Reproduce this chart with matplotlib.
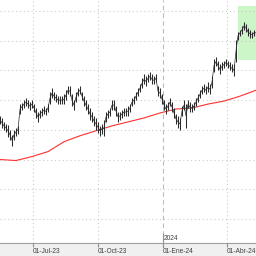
import matplotlib
matplotlib.use("Agg")
import matplotlib.pyplot as plt
from matplotlib.patches import Rectangle
import matplotlib.dates as mdates
import pandas as pd

# Price range per bar (high / low), every ~2 sessions
high = [19.4, 19.2, 18.8, 18.6, 18.5, 18.0, 17.5, 18.0, 18.2, 18.4,
        20.6, 20.7, 21.0, 21.2, 21.0, 20.8, 21.0, 20.6, 20.2, 19.8,
        20.0, 20.2, 20.4, 20.2, 20.6, 21.8, 22.2, 21.8, 21.6, 21.4,
        21.4, 21.4, 21.6, 22.0, 22.4, 22.4, 21.6, 21.0, 21.8, 22.2,
        22.4, 21.8, 21.4, 21.0, 20.6, 20.2, 19.8, 19.4, 19.2, 18.8,
        18.4, 18.6, 19.0, 19.8, 20.0, 20.2, 21.0, 21.0, 20.4, 19.8,
        19.8, 20.0, 20.2, 20.2, 20.4, 20.6, 21.2, 21.4, 21.8, 22.2,
        22.6, 23.2, 23.6, 23.4, 23.6, 23.8, 23.6, 23.4, 23.6, 22.4,
        22.2, 21.6, 21.0, 20.6, 20.8, 21.2, 20.8, 20.2, 19.6, 19.4,
        19.2, 20.4, 21.0, 20.6, 21.0, 20.8, 20.6, 20.8, 21.2, 21.6,
        22.0, 22.4, 22.6, 22.4, 22.8, 22.6, 23.4, 25.2, 25.4, 25.0,
        24.6, 24.8, 25.0, 25.2, 25.0, 24.8, 24.6, 24.6, 27.1, 27.9,
        28.1, 28.5, 28.9, 28.7, 28.3, 28.1, 27.9, 28.1, 28.1]
low = [18.6, 18.2, 18.0, 17.8, 17.3, 17.0, 16.4, 17.0, 17.4, 17.6,
       19.6, 20.0, 20.2, 20.4, 20.2, 20.0, 20.2, 19.8, 19.2, 18.8,
       19.2, 19.4, 19.6, 19.5, 19.8, 20.6, 21.2, 21.0, 20.8, 20.6,
       20.6, 20.6, 20.6, 21.0, 21.6, 21.4, 20.4, 20.0, 20.8, 21.4,
       21.6, 21.0, 20.4, 20.0, 19.6, 19.0, 18.8, 18.4, 18.0, 17.7,
       17.4, 17.6, 17.4, 18.8, 19.2, 19.4, 20.0, 20.0, 19.4, 18.8,
       19.0, 19.2, 19.4, 19.4, 19.4, 19.8, 20.4, 20.6, 21.0, 21.4,
       21.8, 22.2, 22.6, 22.4, 22.8, 23.0, 22.6, 22.6, 22.8, 21.4,
       21.2, 20.6, 20.0, 19.6, 20.0, 20.4, 19.8, 19.2, 18.6, 18.2,
       18.0, 19.4, 20.0, 18.2, 20.2, 19.8, 19.8, 20.0, 20.4, 20.8,
       21.2, 21.6, 21.8, 21.6, 21.8, 21.6, 22.2, 23.8, 24.4, 24.0,
       23.6, 24.0, 24.2, 24.4, 24.2, 24.0, 23.8, 23.4, 24.8, 27.1,
       27.5, 27.7, 28.1, 27.9, 27.5, 27.3, 27.3, 27.5, 27.5]

# moving average, sampled evenly across the visible range
ma = [15.0, 14.9, 15.3, 15.8, 16.8, 17.4, 17.9, 18.4, 18.8,
      19.2, 19.7, 20.1, 20.2, 20.6, 20.9, 21.4, 22.0]

tick_dates = ["2023-04-01", "2023-07-01", "2023-10-01", "2024-01-01", "2024-04-01"]
tick_labels = ["01-Abr-23", "01-Jul-23", "01-Oct-23", "01-Ene-24", "01-Abr-24"]
year_label = "2024"
year_date = "2024-01-01"

zone_start, zone_end = "2024-04-16", "2024-07-01"
zone_low, zone_high = 25.1, 30.5

# visible window (cropped chart)
jul1 = pd.Timestamp("2023-07-01")
apr1 = pd.Timestamp("2024-04-01")
step = (apr1 - jul1) / 194
x_left = jul1 - step * 33
x_right = apr1 + step * 29

dates = pd.date_range(x_left, x_right, periods=len(high))
ma_dates = pd.date_range(x_left, x_right, periods=len(ma))
mid = [(h + l) / 2 for h, l in zip(high, low)]

fig = plt.figure(figsize=(2.56, 2.56), dpi=100, facecolor="#f0f0f0")
ax = fig.add_axes([0, 13 / 256, 1, 243 / 256])
ax.set_facecolor("white")
for side in ["top", "left", "right"]:
    ax.spines[side].set_visible(False)
ax.spines["bottom"].set_color("#a0a0a0")
ax.spines["bottom"].set_linewidth(0.8)

ax.set_xlim(x_left, x_right)
ax.set_ylim(6.57, 31.11)

# grid
ax.set_yticks(range(9, 31, 3))
ax.tick_params(axis="y", left=False, labelleft=False)
ax.grid(axis="y", linestyle=(0, (1, 2.5)), color="#cccccc", linewidth=0.8, zorder=0)
for d in tick_dates[1:]:
    if d == year_date:
        ax.axvline(pd.Timestamp(d), color="#bbbbbb", linestyle=(0, (4, 3)), linewidth=0.8, zorder=0)
    else:
        ax.axvline(pd.Timestamp(d), color="#cccccc", linestyle=(0, (1, 2.5)), linewidth=0.8, zorder=0)

# highlighted zone
x0 = mdates.date2num(pd.Timestamp(zone_start))
x1 = mdates.date2num(pd.Timestamp(zone_end))
ax.add_patch(Rectangle((x0, zone_low), x1 - x0, zone_high - zone_low,
                       facecolor="#ccf5c8", edgecolor="none", zorder=1))

# price bars and moving average
ax.vlines(dates, low, high, color="#2a2a2a", linewidth=0.75, zorder=3)
ax.plot(dates, mid, color="#2a2a2a", linewidth=0.5, zorder=3)
ax.plot(ma_dates, ma, color="#ff3030", linewidth=0.8, zorder=2)

# x ticks
ax.set_xticks([pd.Timestamp(d) for d in tick_dates[1:]])
ax.set_xticklabels(tick_labels[1:])
ax.tick_params(axis="x", direction="out", length=3, width=0.8, color="#909090",
               pad=0.5, labelsize=4.8, labelcolor="#404040")
for lab in ax.get_xticklabels():
    lab.set_horizontalalignment("left")
    lab.set_fontfamily("Liberation Sans")

trans = ax.get_xaxis_transform()
ax.text(pd.Timestamp(tick_dates[0]), -0.018, tick_labels[0], transform=trans,
        ha="left", va="top", fontsize=4.8, color="#404040",
        family="Liberation Sans", clip_on=False)
ax.plot([pd.Timestamp(year_date)] * 2, [-0.015, 0.035], transform=trans,
        color="#909090", linewidth=0.8, clip_on=False)
ax.text(pd.Timestamp(year_date) + pd.Timedelta(days=1), 0.006, year_label, transform=trans,
        ha="left", va="bottom", fontsize=4.8, color="#404040", family="Liberation Sans")

fig.savefig("out.png", dpi=100, facecolor=fig.get_facecolor())
